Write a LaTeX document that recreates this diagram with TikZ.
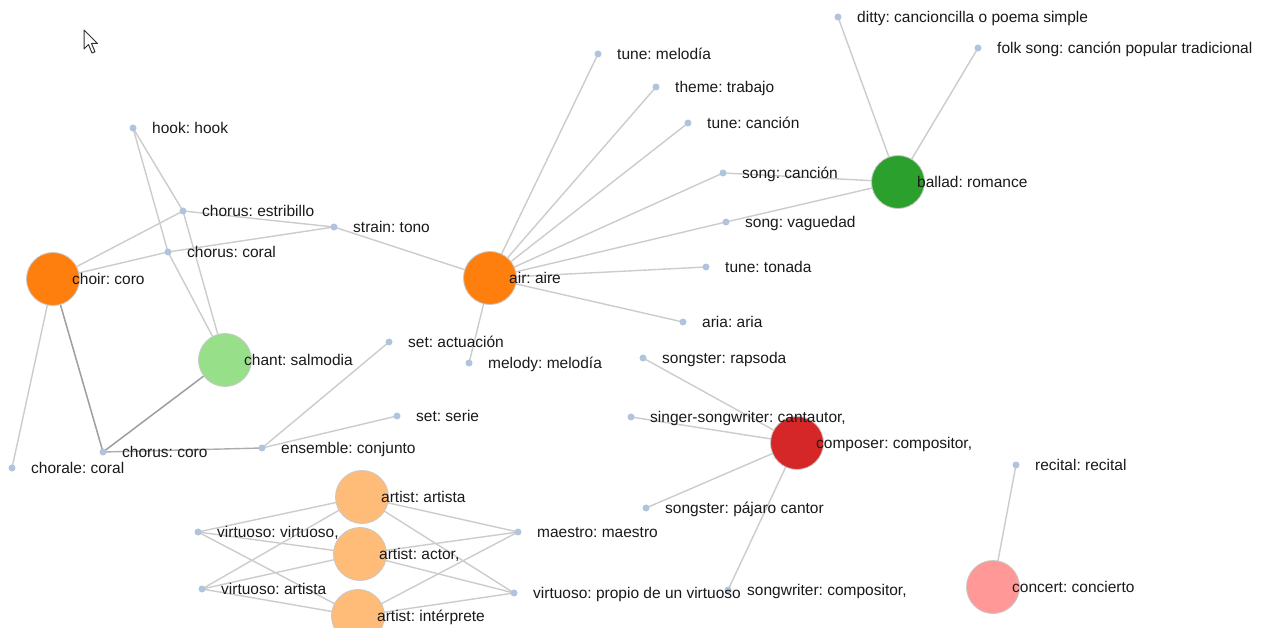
\documentclass[tikz,border=0pt]{standalone}
\usepackage{fontspec}
\setmainfont{Liberation Sans}
\usetikzlibrary{backgrounds}
\frenchspacing

\definecolor{dotblue}{HTML}{B0C4DE}
\definecolor{edgegray}{HTML}{CCCCCC}
\definecolor{edgedark}{HTML}{9E9E9E}
\definecolor{txt}{HTML}{1A1A1A}
\definecolor{cOrange}{HTML}{FF7F0E}
\definecolor{cLtOrange}{HTML}{FFBB78}
\definecolor{cGreen}{HTML}{2CA02C}
\definecolor{cLtGreen}{HTML}{98DF8A}
\definecolor{cRed}{HTML}{D62728}
\definecolor{cPink}{HTML}{FF9896}
\definecolor{rim}{HTML}{C8C8C8}

\tikzset{
  leafdot/.style={circle, fill=dotblue, inner sep=0pt, minimum size=7pt},
  hub/.style={circle, fill=#1, draw=rim, line width=0.8pt, inner sep=0pt, minimum size=53pt},
  lbl/.style={anchor=base west, inner sep=0pt, text=txt,
    font=\fontsize{15.5}{18}\selectfont},
  link/.style={draw=edgegray, line width=1.4pt},
  linkdark/.style={draw=edgedark, line width=1.5pt},
}

% place a label to the right of a node, baseline slightly below its centre
\newcommand{\nlabel}[2]{\node[lbl] (#1-t) at ([shift={(19,5.5)}]#1.center) {#2};}

\begin{document}
\begin{tikzpicture}[x=1pt, y=-1pt]
\path[use as bounding box] (0,0) rectangle (1264,628);

% ---- large nodes ----
\node[hub=cOrange]   (choir)     at (53,279)  {};
\node[hub=cLtGreen]  (chant)     at (225,360) {};
\node[hub=cOrange]   (air)       at (490,278) {};
\node[hub=cGreen]    (ballad)    at (898,182) {};
\node[hub=cRed]      (composer)  at (797,443) {};
\node[hub=cPink]     (concert)   at (993,587) {};
\node[hub=cLtOrange] (artistA)   at (362,497) {};
\node[hub=cLtOrange] (artistB)   at (360,554) {};
\node[hub=cLtOrange] (artistC)   at (358,616) {};

% ---- small nodes ----
\node[leafdot] (hook)      at (133,128) {};
\node[leafdot] (estrib)    at (183,211) {};
\node[leafdot] (coral)     at (168,252) {};
\node[leafdot] (strain)    at (334,227) {};
\node[leafdot] (chorale)   at (12,468)  {};
\node[leafdot] (coro)      at (103,452) {};
\node[leafdot] (ensemble)  at (262,448) {};
\node[leafdot] (setA)      at (389,342) {};
\node[leafdot] (setS)      at (397,416) {};
\node[leafdot] (melody)    at (469,363) {};
\node[leafdot] (tuneM)     at (598,54)  {};
\node[leafdot] (theme)     at (656,87)  {};
\node[leafdot] (tuneC)     at (688,123) {};
\node[leafdot] (songC)     at (723,173) {};
\node[leafdot] (songV)     at (726,222) {};
\node[leafdot] (tuneT)     at (706,267) {};
\node[leafdot] (aria)      at (683,322) {};
\node[leafdot] (rapsoda)   at (643,358) {};
\node[leafdot] (singer)    at (631,417) {};
\node[leafdot] (pajaro)    at (646,508) {};
\node[leafdot] (songwr)    at (728,590) {};
\node[leafdot] (ditty)     at (838,17)  {};
\node[leafdot] (folk)      at (978,48)  {};
\node[leafdot] (recital)   at (1016,465) {};
\node[leafdot] (virtV)     at (198,532) {};
\node[leafdot] (virtA)     at (202,589) {};
\node[leafdot] (maestro)   at (518,532) {};
\node[leafdot] (virtP)     at (514,593) {};

% ---- labels ----
\nlabel{choir}{choir: coro}
\nlabel{chant}{chant: salmodia}
\nlabel{air}{air: aire}
\nlabel{ballad}{ballad: romance}
\nlabel{composer}{composer: compositor,}
\nlabel{concert}{concert: concierto}
\nlabel{artistA}{artist: artista}
\nlabel{artistB}{artist: actor,}
\nlabel{artistC}{artist: intérprete}
\nlabel{hook}{hook: hook}
\nlabel{estrib}{chorus: estribillo}
\nlabel{coral}{chorus: coral}
\nlabel{strain}{strain: tono}
\nlabel{chorale}{chorale: coral}
\nlabel{coro}{chorus: coro}
\nlabel{ensemble}{ensemble: conjunto}
\nlabel{setA}{set: actuación}
\nlabel{setS}{set: serie}
\nlabel{melody}{melody: melodía}
\nlabel{tuneM}{tune: melodía}
\nlabel{theme}{theme: trabajo}
\nlabel{tuneC}{tune: canción}
\nlabel{songC}{song: canción}
\nlabel{songV}{song: vaguedad}
\nlabel{tuneT}{tune: tonada}
\nlabel{aria}{aria: aria}
\nlabel{rapsoda}{songster: rapsoda}
\nlabel{singer}{singer-songwriter: cantautor,}
\nlabel{pajaro}{songster: pájaro cantor}
\nlabel{songwr}{songwriter: compositor,}
\nlabel{ditty}{ditty: cancioncilla o poema simple}
\nlabel{folk}{folk song: canción popular tradicional}
\nlabel{recital}{recital: recital}
\nlabel{virtV}{virtuoso: virtuoso,}
\nlabel{virtA}{virtuoso: artista}
\nlabel{maestro}{maestro: maestro}
\nlabel{virtP}{virtuoso: propio de un virtuoso}

% ---- links, kept under the nodes ----
\begin{scope}[on background layer]
  \fill[white] (0,0) rectangle (1264,628);
  \draw[link] (choir.center) -- (estrib.center);
  \draw[link] (choir.center) -- (coral.center);
  \draw[link] (choir.center) -- (chorale.center);
  \draw[linkdark] (choir.center) -- (coro.center);
  \draw[link] (hook.center) -- (estrib.center);
  \draw[link] (hook.center) -- (coral.center);
  \draw[link] (estrib.center) -- (chant.center);
  \draw[link] (coral.center) -- (chant.center);
  \draw[link] (estrib.center) -- (strain.center);
  \draw[link] (coral.center) -- (strain.center);
  \draw[link] (strain.center) -- (air.center);
  \draw[linkdark] (chant.center) -- (coro.center);
  \draw[link, draw=edgegray!85!black] (coro.center) -- (ensemble.center);
  \draw[link] (ensemble.center) -- (setA.center);
  \draw[link] (ensemble.center) -- (setS.center);
  \foreach \t in {melody, tuneM, theme, tuneC, songC, songV, tuneT, aria}
    \draw[link] (air.center) -- (\t.center);
  \foreach \t in {songC, songV, ditty, folk}
    \draw[link] (ballad.center) -- (\t.center);
  \foreach \t in {rapsoda, singer, pajaro, songwr}
    \draw[link] (composer.center) -- (\t.center);
  \draw[link] (concert.center) -- (recital.center);
  \foreach \a in {artistA, artistB, artistC}
    \foreach \t in {virtV, virtA, maestro, virtP}
      \draw[link] (\a.center) -- (\t.center);
\end{scope}

% ---- mouse pointer ----
\draw[fill=white, draw=black!80, line width=1pt, line join=round]
  (84,30) -- (84,49) -- (88.5,44.5) -- (92,53) -- (95,51.8) -- (91.5,43.5) -- (97.5,43.5) -- cycle;

\end{tikzpicture}
\end{document}
